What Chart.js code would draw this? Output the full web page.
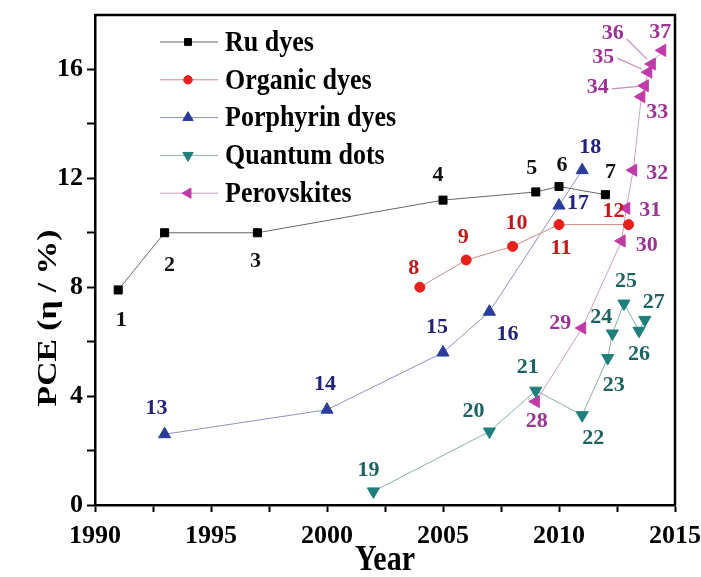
<!DOCTYPE html>
<html>
<head>
<meta charset="utf-8">
<script src="https://cdn.jsdelivr.net/npm/chart.js@4.4.1/dist/chart.umd.min.js"></script>
<style>
    html, body { margin: 0; padding: 0; background: #fff; }
    #wrap { width: 701px; height: 577px; position: relative; }
</style>
</head>
<body>
<div id="wrap"><canvas id="pceChart"></canvas></div>
<script>
// Values: year, PCE (%) and the point number printed next to it
const ruYears = [1991, 1993, 1997, 2005, 2009, 2010, 2012];
const ruPce = [7.9, 10.0, 10.0, 11.2, 11.5, 11.7, 11.4];
const ruIds = [1, 2, 3, 4, 5, 6, 7];

const orgYears = [2004, 2006, 2008, 2010, 2013];
const orgPce = [8.0, 9.0, 9.5, 10.3, 10.3];
const orgIds = [8, 9, 10, 11, 12];

const porYears = [1993, 2000, 2005, 2007, 2010, 2011];
const porPce = [2.6, 3.5, 5.6, 7.1, 11.0, 12.3];
const porIds = [13, 14, 15, 16, 17, 18];

const qdYears = [2002, 2007, 2009, 2011, 2012.1, 2012.3, 2012.8, 2013.45, 2013.7];
const qdPce = [0.5, 2.7, 4.2, 3.3, 5.4, 6.3, 7.4, 6.4, 6.8];
const qdIds = [19, 20, 21, 22, 23, 24, 25, 26, 27];

const perYears = [2009, 2011, 2012.7, 2012.9, 2013.2, 2013.55, 2013.7, 2013.85, 2014.0, 2014.45];
const perPce = [3.8, 6.5, 9.7, 10.9, 12.3, 15.0, 15.4, 15.9, 16.2, 16.7];
const perIds = [28, 29, 30, 31, 32, 33, 34, 35, 36, 37];

const seriesNames = ['Ru dyes', 'Organic dyes', 'Porphyrin dyes', 'Quantum dots', 'Perovskites'];

const xTicks = [1990, 1995, 2000, 2005, 2010, 2015];
const yTicks = [0, 4, 8, 12, 16];

// where each number label sits relative to its point (px)
const labelShift = {
    1: [3, 30], 2: [5, 33], 3: [-2, 29], 4: [-5, -25], 5: [-4, -24], 6: [3, -21], 7: [5, -22],
    8: [-6, -19], 9: [-3, -23], 10: [4, -23], 11: [2, 24], 12: [-15, -13],
    13: [-8, -26], 14: [-2, -25], 15: [-6, -25], 16: [18, 23], 17: [19, -2], 18: [8, -23],
    19: [-5, -21], 20: [-16, -20], 21: [-8, -23], 22: [11, 23], 23: [6, 27], 24: [-11, -16],
    25: [2, -22], 26: [0, 24], 27: [9, -18],
    28: [1, 20], 29: [-22, -5], 30: [25, 4], 31: [24, 2], 32: [24, 3], 33: [16, 16],
    34: [-47, 2], 35: [-45, -15], 36: [-39, -31], 37: [-2, -18]
};
// labels joined to their point by a short leader line
const leaderIds = [34, 35, 36];

const FONT = "'Liberation Serif', 'Times New Roman', serif";

const styles = [
    { marker: '#000000', line: '#666666', text: '#111111', pointStyle: 'rect', radius: 5.7, rotation: 0 },
    { marker: '#e8201c', line: '#c98a8a', text: '#c01a1a', pointStyle: 'circle', radius: 5, rotation: 0 },
    { marker: '#2a3d9e', line: '#8a93b8', text: '#22237a', pointStyle: 'triangle', radius: 7, rotation: 0 },
    { marker: '#1f7f7c', line: '#86b0ae', text: '#1d6363', pointStyle: 'triangle', radius: 7, rotation: 180 },
    { marker: '#c03aa8', line: '#c9a0c4', text: '#9b3493', pointStyle: 'triangle', radius: 7, rotation: 270 }
];

const allYears = [ruYears, orgYears, porYears, qdYears, perYears];
const allPce = [ruPce, orgPce, porPce, qdPce, perPce];
const allIds = [ruIds, orgIds, porIds, qdIds, perIds];

const datasets = seriesNames.map((name, i) => ({
    label: name,
    data: allYears[i].map((yr, j) => ({ x: yr, y: allPce[i][j] })),
    showLine: true,
    borderColor: styles[i].line,
    borderWidth: 1,
    pointStyle: styles[i].pointStyle,
    pointRadius: styles[i].radius,
    pointRotation: styles[i].rotation,
    pointBackgroundColor: styles[i].marker,
    pointBorderColor: styles[i].marker,
    pointBorderWidth: 1,
    tension: 0
}));

function drawMarker(ctx, st, x, y, r) {
    if (Chart.helpers && Chart.helpers.drawPoint) {
        ctx.fillStyle = st.marker;
        ctx.strokeStyle = st.marker;
        ctx.lineWidth = 1;
        Chart.helpers.drawPoint(ctx, { pointStyle: st.pointStyle, radius: r, rotation: st.rotation, borderWidth: 1 }, x, y);
        return;
    }
    ctx.fillStyle = st.marker;
    ctx.beginPath();
    ctx.arc(x, y, r * 0.8, 0, Math.PI * 2);
    ctx.fill();
}

// number labels next to the points
const pointLabels = {
    id: 'pointLabels',
    afterDatasetsDraw(chart) {
        const ctx = chart.ctx;
        ctx.save();
        ctx.font = `bold 22px ${FONT}`;
        ctx.textAlign = 'center';
        ctx.textBaseline = 'middle';
        chart.data.datasets.forEach((ds, d) => {
            const meta = chart.getDatasetMeta(d);
            meta.data.forEach((pt, i) => {
                const id = allIds[d][i];
                const sh = labelShift[id] || [0, -20];
                const lx = pt.x + sh[0];
                const ly = pt.y + sh[1];
                if (leaderIds.includes(id)) {
                    const sx = lx + 14, sy = ly + (id === 36 ? 6 : 1);
                    const dx = pt.x - sx, dy = pt.y - sy;
                    const len = Math.hypot(dx, dy);
                    ctx.strokeStyle = '#c88cc0';
                    ctx.lineWidth = 1.2;
                    ctx.beginPath();
                    ctx.moveTo(sx, sy);
                    ctx.lineTo(pt.x - dx / len * 7, pt.y - dy / len * 7);
                    ctx.stroke();
                }
                ctx.fillStyle = styles[d].text;
                ctx.fillText(String(id), lx, ly);
            });
        });
        ctx.restore();
    }
};

// legend in the upper left, box lines and axis titles
const frame = {
    id: 'frame',
    afterDraw(chart) {
        const ctx = chart.ctx;
        const a = chart.chartArea;
        ctx.save();
        ctx.strokeStyle = '#000';
        ctx.lineWidth = 2.5;
        ctx.beginPath();
        ctx.moveTo(a.left - 1, a.top);
        ctx.lineTo(a.right, a.top);
        ctx.lineTo(a.right, a.bottom);
        ctx.stroke();

        seriesNames.forEach((name, i) => {
            const y = a.top + 27 + i * 37.8;
            ctx.strokeStyle = styles[i].line;
            ctx.lineWidth = 1;
            ctx.beginPath();
            ctx.moveTo(a.left + 65, y);
            ctx.lineTo(a.left + 123, y);
            ctx.stroke();
            drawMarker(ctx, styles[i], a.left + 93, y, styles[i].radius * 0.85);
            ctx.save();
            ctx.translate(a.left + 130, y);
            ctx.scale(1, 1.15);
            ctx.fillStyle = '#000';
            ctx.font = `bold 26px ${FONT}`;
            ctx.textAlign = 'left';
            ctx.textBaseline = 'middle';
            ctx.fillText(name, 0, 1);
            ctx.restore();
        });

        ctx.fillStyle = '#000';
        ctx.textAlign = 'center';
        ctx.textBaseline = 'middle';
        ctx.save();
        ctx.translate(49, 318);
        ctx.rotate(-Math.PI / 2);
        ctx.scale(1.2, 1);
        ctx.font = `bold 28px ${FONT}`;
        ctx.fillText('PCE (η / %)', 0, 0);
        ctx.restore();

        ctx.save();
        ctx.translate((a.left + a.right) / 2, 561);
        ctx.scale(1, 1.2);
        ctx.font = `bold 30px ${FONT}`;
        ctx.fillText('Year', 0, 0);
        ctx.restore();
        ctx.restore();
    }
};

new Chart(document.getElementById('pceChart'), {
    type: 'scatter',
    data: { datasets: datasets },
    options: {
        responsive: true,
        maintainAspectRatio: false,
        animation: false,
        devicePixelRatio: 1,
        layout: { padding: { top: 15, right: 26, left: 0, bottom: 0 } },
        plugins: {
            legend: { display: false },
            tooltip: { enabled: false }
        },
        scales: {
            x: {
                type: 'linear',
                min: 1990,
                max: 2015,
                afterFit: s => { s.height = 72; s.paddingLeft = 0; s.paddingRight = 0; },
                ticks: {
                    stepSize: 2.5,
                    autoSkip: false,
                    maxRotation: 0,
                    padding: 9,
                    color: '#000',
                    font: { family: FONT, size: 26, weight: 'bold' },
                    callback: v => xTicks.includes(v) ? String(v) : ''
                },
                grid: { drawOnChartArea: false, tickLength: 7, tickColor: '#000', tickWidth: 2 },
                border: { color: '#000', width: 2.5 }
            },
            y: {
                min: 0,
                max: 18,
                afterFit: s => { s.width = 95; s.paddingTop = 0; s.paddingBottom = 0; },
                ticks: {
                    stepSize: 2,
                    autoSkip: false,
                    padding: 4,
                    color: '#000',
                    font: { family: FONT, size: 26, weight: 'bold' },
                    callback: v => yTicks.includes(v) ? String(v) : ''
                },
                grid: {
                    drawOnChartArea: false,
                    tickLength: 8,
                    tickWidth: 2,
                    tickColor: c => (c.tick && c.tick.value === 18) ? 'rgba(0,0,0,0)' : '#000'
                },
                border: { color: '#000', width: 2.5 }
            }
        }
    },
    plugins: [pointLabels, frame]
});
</script>
</body>
</html>
